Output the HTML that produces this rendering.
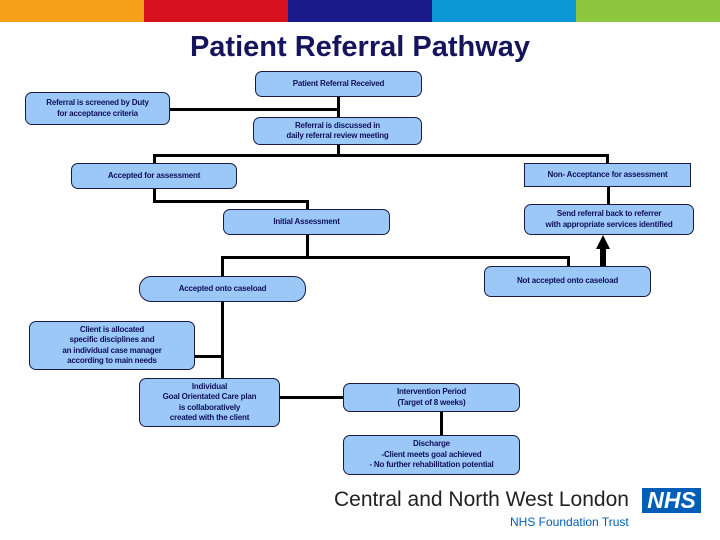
<!DOCTYPE html>
<html><head><meta charset="utf-8"><style>
body{margin:0;width:720px;height:540px;background:#fff;position:relative;overflow:hidden;font-family:"Liberation Sans",sans-serif}
.bar{position:absolute;top:0;height:22px;width:144px}
.b{position:absolute;background:#9cc8f7;border:1px solid #1a1a40;border-radius:7px;display:flex;align-items:center;justify-content:center;text-align:center;font-size:8px;font-weight:bold;color:#10105a;line-height:10.5px;box-sizing:border-box;letter-spacing:-0.2px}
.l{position:absolute;background:#000}
</style></head><body>
<div class="bar" style="left:0;background:#f7a11a"></div>
<div class="bar" style="left:144px;background:#d7121f"></div>
<div class="bar" style="left:288px;background:#1c1a8a"></div>
<div class="bar" style="left:432px;background:#0b97d6"></div>
<div class="bar" style="left:576px;background:#8dc63f"></div>
<div style="position:absolute;left:0;width:720px;top:31px;text-align:center;font-size:29px;font-weight:bold;color:#15155e">Patient Referral Pathway</div>

<!-- lines -->
<div class="l" style="left:337px;top:97px;width:3px;height:20px"></div>
<div class="l" style="left:170px;top:108px;width:170px;height:3px"></div>
<div class="l" style="left:337px;top:145px;width:3px;height:11px"></div>
<div class="l" style="left:153px;top:154px;width:456px;height:3px"></div>
<div class="l" style="left:153px;top:154px;width:3px;height:10px"></div>
<div class="l" style="left:606px;top:154px;width:3px;height:10px"></div>
<div class="l" style="left:153px;top:189px;width:3px;height:13px"></div>
<div class="l" style="left:153px;top:200px;width:155px;height:3px"></div>
<div class="l" style="left:306px;top:200px;width:3px;height:10px"></div>
<div class="l" style="left:607px;top:187px;width:3px;height:18px"></div>
<div class="l" style="left:306px;top:235px;width:3px;height:23px"></div>
<div class="l" style="left:221px;top:256px;width:349px;height:3px"></div>
<div class="l" style="left:221px;top:256px;width:3px;height:21px"></div>
<div class="l" style="left:567px;top:256px;width:3px;height:11px"></div>
<div class="l" style="left:600px;top:248px;width:6px;height:18px"></div>
<div style="position:absolute;left:596px;top:235px;width:0;height:0;border-left:7px solid transparent;border-right:7px solid transparent;border-bottom:14px solid #000"></div>
<div class="l" style="left:221px;top:302px;width:3px;height:77px"></div>
<div class="l" style="left:195px;top:355px;width:28px;height:3px"></div>
<div class="l" style="left:280px;top:396px;width:64px;height:3px"></div>
<div class="l" style="left:440px;top:412px;width:3px;height:24px"></div>

<!-- boxes -->
<div class="b" style="left:255px;top:71px;width:167px;height:26px">Patient Referral Received</div>
<div class="b" style="left:25px;top:92px;width:145px;height:33px">Referral is screened by Duty<br>for acceptance criteria</div>
<div class="b" style="left:253px;top:117px;width:169px;height:28px">Referral is discussed in<br>daily referral review meeting</div>
<div class="b" style="left:71px;top:163px;width:166px;height:26px">Accepted for assessment</div>
<div class="b" style="left:524px;top:163px;width:167px;height:24px;border-radius:0">Non- Acceptance for assessment</div>
<div class="b" style="left:223px;top:209px;width:167px;height:26px">Initial Assessment</div>
<div class="b" style="left:524px;top:204px;width:170px;height:31px">Send referral back to referrer<br>with appropriate services identified</div>
<div class="b" style="left:484px;top:266px;width:167px;height:31px">Not accepted onto caseload</div>
<div class="b" style="left:139px;top:276px;width:167px;height:26px;border-radius:12px">Accepted onto caseload</div>
<div class="b" style="left:29px;top:321px;width:166px;height:49px">Client is allocated<br>specific disciplines and<br>an individual  case manager<br>according to main needs</div>
<div class="b" style="left:139px;top:378px;width:141px;height:49px">Individual<br>Goal Orientated Care plan<br>is collaboratively<br>created with the client</div>
<div class="b" style="left:343px;top:383px;width:177px;height:29px">Intervention Period<br>(Target of 8 weeks)</div>
<div class="b" style="left:343px;top:435px;width:177px;height:40px">Discharge<br>-Client meets goal achieved<br>- No further rehabilitation potential</div>

<!-- logo -->
<div style="position:absolute;left:334px;top:488px;font-size:21px;color:#222;letter-spacing:0">Central and North West London</div>
<div style="position:absolute;left:642px;top:488px;width:59px;height:25px;background:#005eb8;color:#fff;font-weight:bold;font-style:italic;font-size:23px;line-height:25px;text-align:center">NHS</div>
<div style="position:absolute;left:510px;top:515px;font-size:12px;color:#005eb8">NHS Foundation Trust</div>
</body></html>
